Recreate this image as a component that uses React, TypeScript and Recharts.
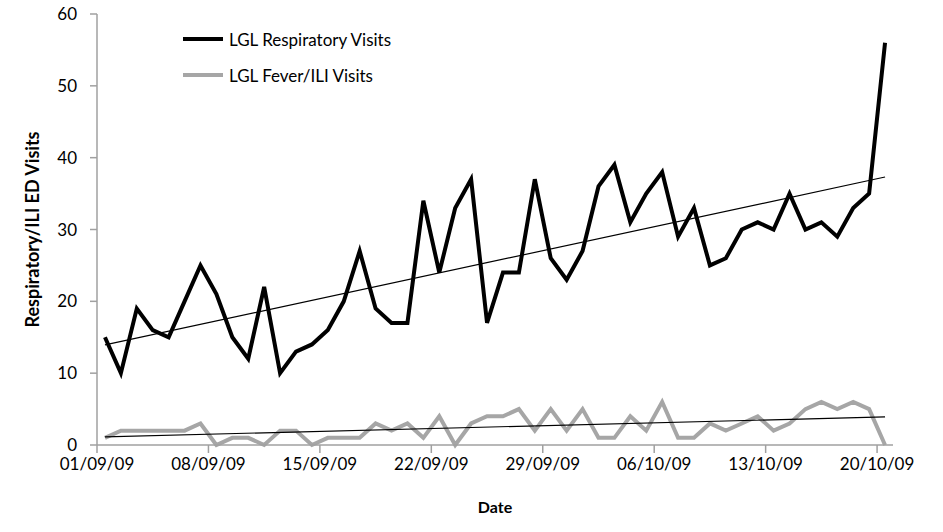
import { LineChart, Line, XAxis, YAxis, ReferenceLine, Label } from "recharts";

// one value per day, 01/09/09 .. 20/10/09
const respiratory = [
  15, 10, 19, 16, 15, 20, 25, 21, 15, 12,
  22, 10, 13, 14, 16, 20, 27, 19, 17, 17,
  34, 24, 33, 37, 17, 24, 24, 37, 26, 23,
  27, 36, 39, 31, 35, 38, 29, 33, 25, 26,
  30, 31, 30, 35, 30, 31, 29, 33, 35, 56,
];
const feverIli = [
  1, 2, 2, 2, 2, 2, 3, 0, 1, 1,
  0, 2, 2, 0, 1, 1, 1, 3, 2, 3,
  1, 4, 0, 3, 4, 4, 5, 2, 5, 2,
  5, 1, 1, 4, 2, 6, 1, 1, 3, 2,
  3, 4, 2, 3, 5, 6, 5, 6, 5, 0,
];
const weekLabels = ["01/09/09", "08/09/09", "15/09/09", "22/09/09", "29/09/09", "06/10/09", "13/10/09", "20/10/09"];
const yTicks = [0, 10, 20, 30, 40, 50, 60];
const seriesNames = ["LGL Respiratory Visits", "LGL Fever/ILI Visits"];

const data = respiratory.map((r, i) => ({ day: i, resp: r, fever: feverIli[i] }));
const weekTicks = weekLabels.map((_, i) => i * 7 - 0.5);

// least-squares trendline, as the spreadsheet draws it
const trend = (ys: number[]) => {
  const n = ys.length;
  const mx = (n - 1) / 2;
  const my = ys.reduce((a, b) => a + b, 0) / n;
  let sxy = 0, sxx = 0;
  ys.forEach((y, x) => { sxy += (x - mx) * (y - my); sxx += (x - mx) * (x - mx); });
  const b = sxy / sxx;
  return [{ x: 0, y: my - b * mx }, { x: n - 1, y: my + b * (n - 1 - mx) }];
};

const FONT = "Lato, sans-serif";
const AXIS = "#a0a0a0";
const COLORS = ["#000", "#a6a6a6"];

const App = () => (
  <div style={{ position: "absolute", left: 0, top: 0, width: 943, height: 532, background: "#fff" }}>
    <LineChart width={943} height={532} data={data} margin={{ top: 14, right: 50, bottom: 0, left: 0 }}>
      <XAxis
        dataKey="day"
        type="number"
        domain={[-0.5, 49.5]}
        ticks={weekTicks}
        tickFormatter={(v: number) => weekLabels[Math.round((v + 0.5) / 7)]}
        height={87}
        stroke={AXIS}
        strokeWidth={1.5}
        tickSize={8}
        tickMargin={5}
        tick={{ fill: "#000", fontSize: 17, fontFamily: FONT }}
      >
        <Label value="Date" position="insideBottom" offset={19} style={{ fontFamily: FONT, fontSize: 16, fontWeight: 700, fill: "#000" }} />
      </XAxis>
      <YAxis
        domain={[0, 60]}
        ticks={yTicks}
        width={97}
        stroke={AXIS}
        strokeWidth={1.5}
        tickSize={7}
        tickMargin={13}
        tick={{ fill: "#000", fontSize: 17, fontFamily: FONT }}
      >
        <Label
          content={(p: any) => {
            const vb = p.viewBox || { x: 0, y: 14, height: 431 };
            const cx = 32;
            const cy = vb.y + vb.height / 2;
            return (
              <text x={cx} y={cy} transform={`rotate(-90 ${cx} ${cy})`} textAnchor="middle" dominantBaseline="central"
                style={{ fontFamily: FONT, fontSize: 18, fontWeight: 700, fill: "#000" }}>
                Respiratory/ILI ED Visits
              </text>
            );
          }}
        />
      </YAxis>
      <Line dataKey="resp" name={seriesNames[0]} stroke={COLORS[0]} strokeWidth={4} dot={false} isAnimationActive={false} />
      <Line dataKey="fever" name={seriesNames[1]} stroke={COLORS[1]} strokeWidth={4} dot={false} isAnimationActive={false} />
      <ReferenceLine segment={trend(respiratory)} stroke="#000" strokeWidth={1.2} ifOverflow="visible" />
      <ReferenceLine segment={trend(feverIli)} stroke="#000" strokeWidth={1.2} ifOverflow="visible" />
    </LineChart>
    <div style={{ position: "absolute", left: 183, top: 21, fontFamily: FONT, fontSize: 17, color: "#000" }}>
      {seriesNames.map((name, i) => (
        <div key={name} style={{ display: "flex", alignItems: "center", height: 36 }}>
          <span style={{ display: "inline-block", width: 40, height: 4, background: COLORS[i], marginRight: 6 }} />
          <span>{name}</span>
        </div>
      ))}
    </div>
  </div>
);

export default App;
